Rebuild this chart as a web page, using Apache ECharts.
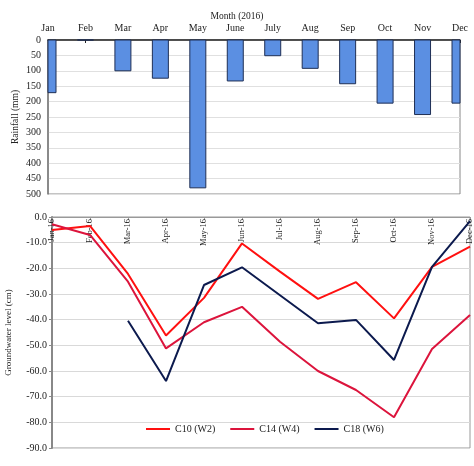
<!DOCTYPE html>
<html>
<head>
<meta charset="utf-8">
<script src="https://cdn.jsdelivr.net/npm/echarts@6/dist/echarts.min.js"></script>
<style>
  html, body { margin: 0; padding: 0; background: #fff; }
  #main { width: 474px; height: 466px; }
</style>
</head>
<body>
<div id="main"></div>
<script>
// rainfall per month (mm)
var months = ["Jan", "Feb", "Mar", "Apr", "May", "June", "July", "Aug", "Sep", "Oct", "Nov", "Dec"];
var rainfall = [171, 0, 100, 124, 480, 133, 51, 92, 142, 205, 242, 205];

// groundwater level (cm)
var gwMonths = ["Jan-16", "Feb-16", "Mar-16", "Apr-16", "May-16", "Jun-16", "Jul-16", "Aug-16", "Sep-16", "Oct-16", "Nov-16", "Dec-16"];
var c10 = [-5.1, -3.5, -22.2, -46.2, -31.5, -10.3, -21.3, -31.9, -25.4, -39.5, -19.4, -11.5];
var c14 = [-2.8, -7.0, -25.2, -51.2, -41.0, -35.0, -48.6, -60.0, -67.4, -78.0, -51.4, -38.2];
var c18 = [null, null, -40.4, -63.9, -26.5, -19.6, -30.5, -41.4, -40.1, -55.7, -19.4, -1.6];

var serif = "Liberation Serif";
var myChart = echarts.init(document.getElementById("main"));

// bars sit on the ticks (boundaryGap false), so clip them to the grid like the original
function renderBar(params, api) {
  var base = api.coord([api.value(0), 0]);
  var end = api.coord([api.value(0), api.value(1)]);
  var w = 16;
  var cs = params.coordSys;
  var shape = echarts.graphic.clipRectByRect(
    { x: base[0] - w / 2, y: base[1], width: w, height: end[1] - base[1] },
    { x: cs.x, y: cs.y, width: cs.width, height: cs.height }
  );
  return shape && {
    type: "rect",
    shape: shape,
    style: { fill: "#5b8fe2", stroke: "#1f2f55", lineWidth: 1 },
  };
}

var option = {
  animation: false,
  textStyle: { fontFamily: serif },
  title: {
    text: "Month (2016)",
    left: "center",
    top: 6,
    textStyle: { fontFamily: serif, fontSize: 9.5, fontWeight: "normal", color: "#222" },
  },
  grid: [
    { left: 48, right: 14, top: 40, height: 154, show: true, borderColor: "#888", borderWidth: 1, outerBoundsMode: "none" },
    { left: 52, right: 4, top: 217, height: 231, show: true, borderColor: "#999", borderWidth: 1, outerBoundsMode: "none" },
  ],
  legend: {
    data: ["C10 (W2)", "C14 (W4)", "C18 (W6)"],
    left: 141,
    top: 419,
    itemWidth: 24,
    itemHeight: 2,
    itemGap: 15,
    icon: "rect",
    textStyle: { fontFamily: serif, fontSize: 10, color: "#222" },
  },
  xAxis: [
    {
      type: "category",
      gridIndex: 0,
      position: "top",
      data: months,
      boundaryGap: false,
      axisLine: { lineStyle: { color: "#222", width: 1.5 } },
      axisTick: { inside: true, length: 3, lineStyle: { color: "#222" } },
      axisLabel: { fontFamily: serif, fontSize: 10, color: "#222", margin: 7, interval: 0 },
    },
    {
      type: "category",
      gridIndex: 1,
      position: "top",
      data: gwMonths,
      boundaryGap: false,
      axisLine: { lineStyle: { color: "#999", width: 1 } },
      axisTick: { inside: true, length: 3, lineStyle: { color: "#999" } },
      axisLabel: { inside: true, rotate: 90, fontFamily: serif, fontSize: 8.5, color: "#222", margin: 2, interval: 0 },
    },
  ],
  yAxis: [
    {
      type: "value",
      gridIndex: 0,
      inverse: true,
      min: 0,
      max: 500,
      interval: 50,
      name: "Rainfall (mm)",
      nameLocation: "middle",
      nameGap: 28,
      nameMoveOverlap: false,
      nameTextStyle: { fontFamily: serif, fontSize: 9.5, color: "#222" },
      axisLine: { show: true, lineStyle: { color: "#777", width: 1.5 } },
      axisTick: { show: false },
      axisLabel: { fontFamily: serif, fontSize: 10, color: "#222", margin: 7 },
      splitLine: { lineStyle: { color: "#e0e0e0" } },
    },
    {
      type: "value",
      gridIndex: 1,
      min: -90,
      max: 0,
      interval: 10,
      name: "Groundwater level (cm)",
      nameLocation: "middle",
      nameGap: 39,
      nameMoveOverlap: false,
      nameTextStyle: { fontFamily: serif, fontSize: 9, color: "#222" },
      axisLine: { show: true, lineStyle: { color: "#888", width: 2 } },
      axisTick: { show: true, length: 3, lineStyle: { color: "#888" } },
      axisLabel: {
        fontFamily: serif,
        fontSize: 10,
        color: "#222",
        margin: 5,
        formatter: function (v) { return v.toFixed(1); },
      },
      splitLine: { lineStyle: { color: "#d9d9d9" } },
    },
  ],
  series: [
    {
      type: "custom",
      xAxisIndex: 0,
      yAxisIndex: 0,
      data: rainfall.map(function (v, i) { return [i, v]; }),
      encode: { x: 0, y: 1 },
      renderItem: renderBar,
    },
    {
      name: "C10 (W2)",
      type: "line",
      xAxisIndex: 1,
      yAxisIndex: 1,
      data: c10,
      symbol: "none",
      color: "#ff1010",
      lineStyle: { width: 2 },
    },
    {
      name: "C14 (W4)",
      type: "line",
      xAxisIndex: 1,
      yAxisIndex: 1,
      data: c14,
      symbol: "none",
      color: "#dc143c",
      lineStyle: { width: 2 },
    },
    {
      name: "C18 (W6)",
      type: "line",
      xAxisIndex: 1,
      yAxisIndex: 1,
      data: c18,
      symbol: "none",
      color: "#0c1a4e",
      lineStyle: { width: 2 },
    },
  ],
};

myChart.setOption(option);
window.addEventListener("resize", function () {
  myChart.resize();
});
</script>
</body>
</html>
